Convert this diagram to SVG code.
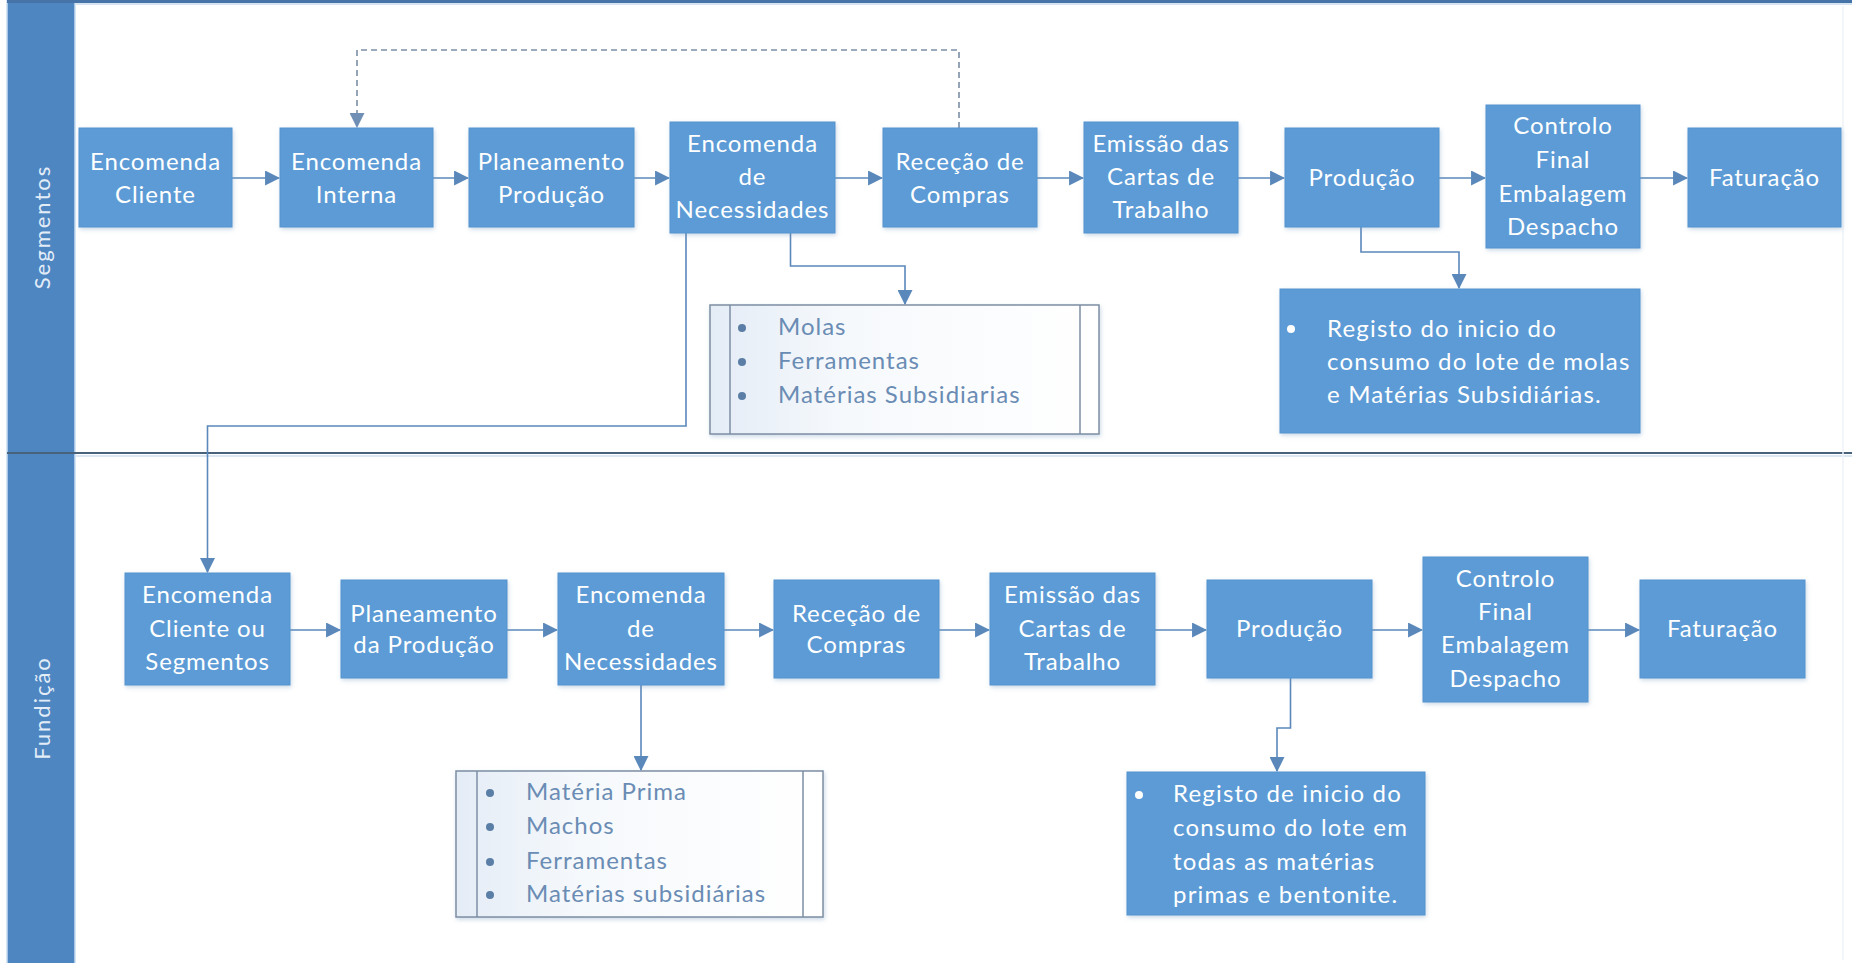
<svg xmlns="http://www.w3.org/2000/svg" width="1852" height="963" viewBox="0 0 1852 963">
  <defs>
    <style>
      .box { fill: #5B9BD5; stroke: #5694cf; stroke-width: 1; filter: url(#shadow); }
      .lbl { font-family: Lato, "Open Sans", sans-serif; font-size: 24px; fill: #ffffff; text-anchor: middle; letter-spacing: 0.9px; }
      .note { font-family: Lato, "Open Sans", sans-serif; font-size: 24px; fill: #ffffff; letter-spacing: 1.2px; }
      .list { fill: url(#listFill); stroke: #7d8ea3; stroke-width: 1.5; filter: url(#shadow); }
      .listline { stroke: #7d8ea3; stroke-width: 1.5; }
      .item { font-family: Lato, "Open Sans", sans-serif; font-size: 24px; fill: #6a8cb4; letter-spacing: 1px; }
      .dot { fill: #5a7ea6; }
      .wdot { fill: #ffffff; }
      .lane { font-family: Lato, "Open Sans", sans-serif; font-size: 22px; fill: #e3edf8; text-anchor: middle; letter-spacing: 2px; }
      .conn { fill: none; stroke: #5a88bb; stroke-width: 1.6; marker-end: url(#arrow); }
      .dash { fill: none; stroke: #7b8ea6; stroke-width: 1.6; stroke-dasharray: 6 4; marker-end: url(#arrowGray); }
    </style>
    <marker id="arrow" viewBox="0 0 14 14" refX="13" refY="7" markerWidth="15" markerHeight="15" markerUnits="userSpaceOnUse" orient="auto">
      <path d="M0,0 L14,7 L0,14 Z" fill="#5a88bb"/>
    </marker>
    <marker id="arrowGray" viewBox="0 0 14 14" refX="13" refY="7" markerWidth="15" markerHeight="15" markerUnits="userSpaceOnUse" orient="auto">
      <path d="M0,0 L14,7 L0,14 Z" fill="#6f8fb5"/>
    </marker>
    <linearGradient id="listFill" x1="0" y1="0" x2="1" y2="0">
      <stop offset="0" stop-color="#e4ecf6"/>
      <stop offset="0.35" stop-color="#f6f9fc"/>
      <stop offset="1" stop-color="#ffffff"/>
    </linearGradient>
    <filter id="shadow" x="-10%" y="-10%" width="125%" height="125%">
      <feDropShadow dx="1" dy="2" stdDeviation="2" flood-color="#6f95bf" flood-opacity="0.35"/>
    </filter>
  </defs>

  <rect x="0" y="0" width="1852" height="963" fill="#ffffff"/>

  <!-- swimlanes -->
  <g id="lanes">
    <rect x="7" y="0" width="68" height="963" fill="#4e86c2"/>
    <line x1="7" y1="0" x2="7" y2="963" stroke="#c9dcef" stroke-width="1.5"/>
    <line x1="75" y1="0" x2="75" y2="963" stroke="#c9dcef" stroke-width="1.5"/>
    <line x1="7" y1="1.5" x2="1852" y2="1.5" stroke="#4673a8" stroke-width="3"/>
    <line x1="75" y1="4" x2="1852" y2="4" stroke="#d6e4f2" stroke-width="2"/>
    <line x1="7" y1="453" x2="1852" y2="453" stroke="#48627c" stroke-width="2"/>
    <line x1="75" y1="456" x2="1852" y2="456" stroke="#dbe7f3" stroke-width="2"/>
    <line x1="1843" y1="6" x2="1843" y2="960" stroke="#eef3f9" stroke-width="1.5"/>
    <text class="lane" transform="translate(50,227) rotate(-90)">Segmentos</text>
    <text class="lane" transform="translate(50,708) rotate(-90)">Fundição</text>
  </g>

  <!-- connectors -->
  <g id="connectors">
    <path class="dash" d="M959,128 V50 H357 V127"/>
    <path class="conn" d="M232,178 H279"/>
    <path class="conn" d="M433,178 H468"/>
    <path class="conn" d="M634,178 H669"/>
    <path class="conn" d="M835,178 H882"/>
    <path class="conn" d="M1037,178 H1083"/>
    <path class="conn" d="M1238,178 H1284"/>
    <path class="conn" d="M1439,178 H1485"/>
    <path class="conn" d="M1640,178 H1687"/>
    <path class="conn" d="M790.5,233 V266 H905 V304"/>
    <path class="conn" d="M1361,227 V252 H1459 V288"/>
    <path class="conn" d="M686,233 V426 H207.5 V572"/>

    <path class="conn" d="M290,630 H340"/>
    <path class="conn" d="M507,630 H557"/>
    <path class="conn" d="M724,630 H773"/>
    <path class="conn" d="M939,630 H989"/>
    <path class="conn" d="M1155,630 H1206"/>
    <path class="conn" d="M1372,630 H1422"/>
    <path class="conn" d="M1588,630 H1639"/>
    <path class="conn" d="M641,685 V770"/>
    <path class="conn" d="M1290.5,678 V728 H1277 V771"/>
  </g>

  <!-- Segmentos lane -->
  <g id="s-encomenda-cliente">
    <rect class="box" x="79" y="128" width="153" height="99"/>
    <text class="lbl" x="155.5" y="170">Encomenda</text>
    <text class="lbl" x="155.5" y="203">Cliente</text>
  </g>
  <g id="s-encomenda-interna">
    <rect class="box" x="280" y="128" width="153" height="99"/>
    <text class="lbl" x="356.5" y="170">Encomenda</text>
    <text class="lbl" x="356.5" y="203">Interna</text>
  </g>
  <g id="s-planeamento">
    <rect class="box" x="469" y="128" width="165" height="99"/>
    <text class="lbl" x="551.5" y="170">Planeamento</text>
    <text class="lbl" x="551.5" y="203">Produção</text>
  </g>
  <g id="s-necessidades">
    <rect class="box" x="670" y="122" width="165" height="111"/>
    <text class="lbl" x="752.5" y="152">Encomenda</text>
    <text class="lbl" x="752.5" y="185">de</text>
    <text class="lbl" x="752.5" y="218">Necessidades</text>
  </g>
  <g id="s-rececao">
    <rect class="box" x="883" y="128" width="154" height="99"/>
    <text class="lbl" x="960" y="170">Receção de</text>
    <text class="lbl" x="960" y="203">Compras</text>
  </g>
  <g id="s-emissao">
    <rect class="box" x="1084" y="122" width="154" height="111"/>
    <text class="lbl" x="1161" y="152">Emissão das</text>
    <text class="lbl" x="1161" y="185">Cartas de</text>
    <text class="lbl" x="1161" y="218">Trabalho</text>
  </g>
  <g id="s-producao">
    <rect class="box" x="1285" y="128" width="154" height="99"/>
    <text class="lbl" x="1362" y="186">Produção</text>
  </g>
  <g id="s-controlo">
    <rect class="box" x="1486" y="105" width="154" height="143"/>
    <text class="lbl" x="1563" y="134">Controlo</text>
    <text class="lbl" x="1563" y="168">Final</text>
    <text class="lbl" x="1563" y="202">Embalagem</text>
    <text class="lbl" x="1563" y="235">Despacho</text>
  </g>
  <g id="s-faturacao">
    <rect class="box" x="1688" y="128" width="153" height="99"/>
    <text class="lbl" x="1764.5" y="186">Faturação</text>
  </g>
  <g id="s-lista">
    <rect class="list" x="710" y="305" width="389" height="129"/>
    <line class="listline" x1="730" y1="305" x2="730" y2="434"/>
    <line class="listline" x1="1080" y1="305" x2="1080" y2="434"/>
    <circle class="dot" cx="742" cy="328" r="4"/>
    <circle class="dot" cx="742" cy="362" r="4"/>
    <circle class="dot" cx="742" cy="396" r="4"/>
    <text class="item" x="778" y="335">Molas</text>
    <text class="item" x="778" y="369">Ferramentas</text>
    <text class="item" x="778" y="403">Matérias Subsidiarias</text>
  </g>
  <g id="s-registo">
    <rect class="box" x="1280" y="289" width="360" height="144"/>
    <circle class="wdot" cx="1291" cy="329" r="4"/>
    <text class="note" x="1327" y="337">Registo do inicio do</text>
    <text class="note" x="1327" y="370">consumo do lote de molas</text>
    <text class="note" x="1327" y="403">e Matérias Subsidiárias.</text>
  </g>

  <!-- Fundição lane -->
  <g id="f-encomenda">
    <rect class="box" x="125" y="573" width="165" height="112"/>
    <text class="lbl" x="207.5" y="603">Encomenda</text>
    <text class="lbl" x="207.5" y="637">Cliente ou</text>
    <text class="lbl" x="207.5" y="670">Segmentos</text>
  </g>
  <g id="f-planeamento">
    <rect class="box" x="341" y="580" width="166" height="98"/>
    <text class="lbl" x="424" y="622">Planeamento</text>
    <text class="lbl" x="424" y="653">da Produção</text>
  </g>
  <g id="f-necessidades">
    <rect class="box" x="558" y="573" width="166" height="112"/>
    <text class="lbl" x="641" y="603">Encomenda</text>
    <text class="lbl" x="641" y="637">de</text>
    <text class="lbl" x="641" y="670">Necessidades</text>
  </g>
  <g id="f-rececao">
    <rect class="box" x="774" y="580" width="165" height="98"/>
    <text class="lbl" x="856.5" y="622">Receção de</text>
    <text class="lbl" x="856.5" y="653">Compras</text>
  </g>
  <g id="f-emissao">
    <rect class="box" x="990" y="573" width="165" height="112"/>
    <text class="lbl" x="1072.5" y="603">Emissão das</text>
    <text class="lbl" x="1072.5" y="637">Cartas de</text>
    <text class="lbl" x="1072.5" y="670">Trabalho</text>
  </g>
  <g id="f-producao">
    <rect class="box" x="1207" y="580" width="165" height="98"/>
    <text class="lbl" x="1289.5" y="637">Produção</text>
  </g>
  <g id="f-controlo">
    <rect class="box" x="1423" y="557" width="165" height="145"/>
    <text class="lbl" x="1505.5" y="587">Controlo</text>
    <text class="lbl" x="1505.5" y="620">Final</text>
    <text class="lbl" x="1505.5" y="653">Embalagem</text>
    <text class="lbl" x="1505.5" y="687">Despacho</text>
  </g>
  <g id="f-faturacao">
    <rect class="box" x="1640" y="580" width="165" height="98"/>
    <text class="lbl" x="1722.5" y="637">Faturação</text>
  </g>
  <g id="f-lista">
    <rect class="list" x="456" y="771" width="367" height="146"/>
    <line class="listline" x1="477" y1="771" x2="477" y2="917"/>
    <line class="listline" x1="803" y1="771" x2="803" y2="917"/>
    <circle class="dot" cx="490" cy="793" r="4"/>
    <circle class="dot" cx="490" cy="827" r="4"/>
    <circle class="dot" cx="490" cy="862" r="4"/>
    <circle class="dot" cx="490" cy="895" r="4"/>
    <text class="item" x="526" y="800">Matéria Prima</text>
    <text class="item" x="526" y="834">Machos</text>
    <text class="item" x="526" y="869">Ferramentas</text>
    <text class="item" x="526" y="902">Matérias subsidiárias</text>
  </g>
  <g id="f-registo">
    <rect class="box" x="1127" y="772" width="298" height="143"/>
    <circle class="wdot" cx="1139" cy="795" r="4"/>
    <text class="note" x="1173" y="802">Registo de inicio do</text>
    <text class="note" x="1173" y="836">consumo do lote em</text>
    <text class="note" x="1173" y="870">todas as matérias</text>
    <text class="note" x="1173" y="903">primas e bentonite.</text>
  </g>
</svg>
